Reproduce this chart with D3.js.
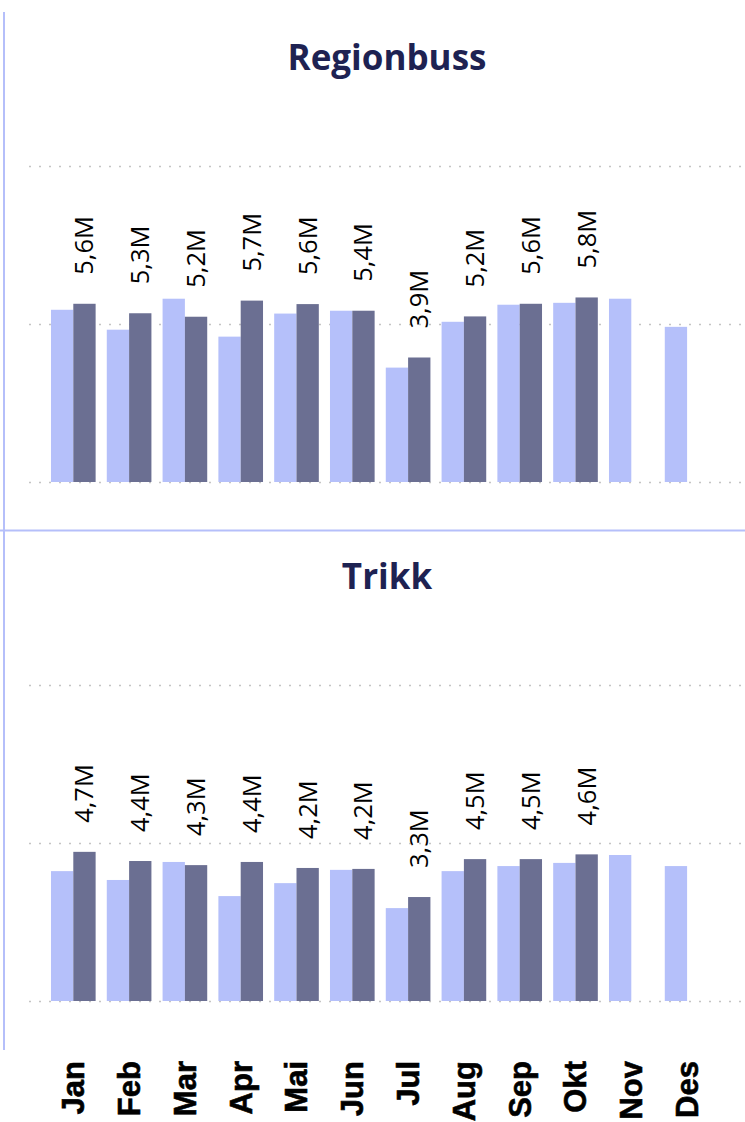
<!DOCTYPE html>
<html lang="no">
  <head>
    <meta charset="utf-8">
    <title>Regionbuss og Trikk</title>
    <script src="https://d3js.org/d3.v7.min.js"></script>
    <style type="text/css">
      body {
        margin: 0;
        background-color: #FFFFFF;
      }
      .grid line {
        stroke: #c4c4c4;
        stroke-width: 1.5;
        stroke-dasharray: 2, 8;
      }
      .grid path {
        stroke-width: 0;
      }
      .title {
        font-family: 'Open Sans', sans-serif;
        font-weight: 700;
        font-size: 35px;
        fill: #1e2252;
      }
      .value-label {
        font-family: 'Open Sans', sans-serif;
        font-size: 25.5px;
        fill: #000000;
      }
      .x-axis text {
        font-family: 'Liberation Sans', Arial, sans-serif;
        font-weight: 700;
        font-size: 31px;
        fill: #000000;
        stroke: #000000;
        stroke-width: 0.6;
      }
      .x-axis path, .x-axis line {
        stroke-width: 0;
      }
    </style>
  </head>
  <body>
  </body>
  <script type="text/javascript">
    // Data (millioner reiser)
    var months = ["Jan", "Feb", "Mar", "Apr", "Mai", "Jun", "Jul", "Aug", "Sep", "Okt", "Nov", "Des"];
    var series = ["Fjor", "I år"];

    var regionbussPrev = [5.45, 4.82, 5.80, 4.60, 5.33, 5.42, 3.62, 5.07, 5.61, 5.67, 5.80, 4.91];
    var regionbussCurr = [5.64, 5.34, 5.23, 5.74, 5.63, 5.42, 3.94, 5.24, 5.64, 5.84];

    var trikkPrev = [4.11, 3.83, 4.40, 3.32, 3.73, 4.15, 2.94, 4.11, 4.27, 4.37, 4.62, 4.27];
    var trikkCurr = [4.72, 4.43, 4.30, 4.40, 4.21, 4.18, 3.29, 4.49, 4.49, 4.64];

    var yTicks = [0, 5, 10];

    var panels = [
      {title: "Regionbuss", prev: regionbussPrev, curr: regionbussCurr},
      {title: "Trikk", prev: trikkPrev, curr: trikkCurr}
    ];

    // Layout
    var width = 745, height = 1122,
        panelOffset = 519,
        baseY = 482, topY = 166,
        gridLeft = 29, gridRight = 745;

    var colors = {"Fjor": "#b5c0fa", "I år": "#6b6f92"};
    var borderColor = "#b5bffa";

    var fmt = d3.formatLocale({decimal: ",", thousands: " ", grouping: [3], currency: ["", " kr"]}).format(".1f");

    var x0 = d3.scaleBand()
        .domain(months)
        .range([45.4, 715])
        .paddingInner(0.2)
        .paddingOuter(0.1);

    var x1 = d3.scaleBand()
        .domain(series)
        .range([0, x0.bandwidth()]);

    var y = d3.scaleLinear()
        .domain([0, 10])
        .range([baseY, topY]);

    var svg = d3.select("body").append("svg")
        .attr("width", width)
        .attr("height", height);

    // frame lines
    svg.append("line")
        .attr("x1", 4).attr("x2", 4)
        .attr("y1", 12).attr("y2", 1050)
        .attr("stroke", borderColor)
        .attr("stroke-width", 2);

    svg.append("line")
        .attr("x1", 0).attr("x2", width)
        .attr("y1", 530.5).attr("y2", 530.5)
        .attr("stroke", borderColor)
        .attr("stroke-width", 2);

    panels.forEach(function(p, pi) {
      var g = svg.append("g")
          .attr("transform", "translate(0," + (pi * panelOffset) + ")");

      g.append("text")
          .attr("class", "title")
          .attr("x", (gridLeft + gridRight) / 2)
          .attr("y", 70)
          .attr("text-anchor", "middle")
          .text(p.title);

      g.append("g")
          .attr("class", "grid")
          .attr("transform", "translate(" + gridLeft + ",0)")
          .call(d3.axisLeft(y)
              .tickValues(yTicks)
              .tickSize(-(gridRight - gridLeft))
              .tickFormat(""));

      var groups = g.selectAll(".month")
          .data(months)
        .enter().append("g")
          .attr("class", "month")
          .attr("transform", function(d) { return "translate(" + x0(d) + ",0)"; });

      groups.each(function(m, i) {
        var rows = [];
        if (p.prev[i] != null) rows.push({s: "Fjor", v: p.prev[i]});
        if (p.curr[i] != null) rows.push({s: "I år", v: p.curr[i]});

        d3.select(this).selectAll("rect")
            .data(rows)
          .enter().append("rect")
            .attr("x", function(d) { return x1(d.s); })
            .attr("width", x1.bandwidth())
            .attr("y", function(d) { return y(d.v); })
            .attr("height", function(d) { return baseY - y(d.v); })
            .attr("fill", function(d) { return colors[d.s]; });
      });

      // value labels for this year
      g.selectAll(".value-label")
          .data(p.curr)
        .enter().append("text")
          .attr("class", "value-label")
          .attr("transform", function(d, i) {
            var cx = x0(months[i]) + x1("I år") + x1.bandwidth() / 2;
            return "translate(" + cx + "," + (y(d) - 29) + ") rotate(-90)";
          })
          .attr("dy", "0.35em")
          .attr("text-anchor", "start")
          .text(function(d) { return fmt(d) + "M"; });
    });

    // month axis (bottom)
    var xAxis = svg.append("g")
        .attr("class", "x-axis")
        .attr("transform", "translate(0," + (baseY + panelOffset) + ")")
        .call(d3.axisBottom(x0).tickSize(0));

    xAxis.selectAll("text")
        .attr("transform", "translate(0,60) rotate(-90)")
        .attr("x", 0)
        .attr("y", 0)
        .attr("dy", "0.35em")
        .attr("text-anchor", "end");

  </script>
</html>
